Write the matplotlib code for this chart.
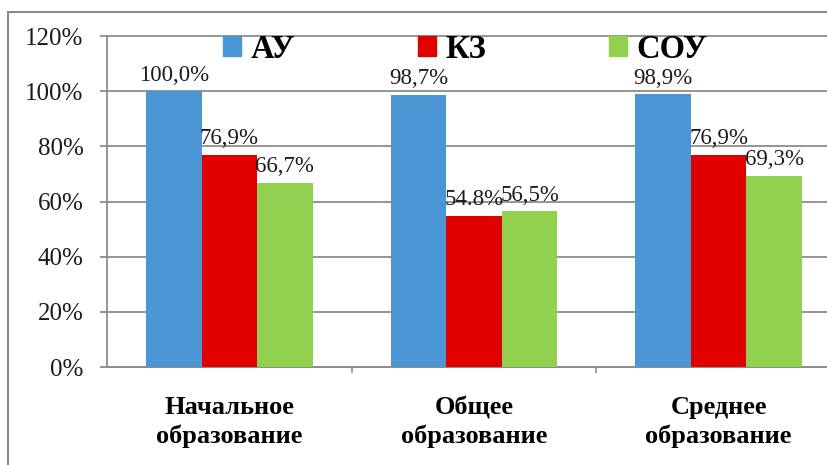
import matplotlib.pyplot as plt
from matplotlib.patches import Patch, Rectangle

# chart data (percent)
categories = ["Начальное\nобразование", "Общее\nобразование", "Среднее\nобразование"]
series_names = ["АУ", "КЗ", "СОУ"]
au = [100.0, 98.7, 98.9]
kz = [76.9, 54.8, 76.9]
sou = [66.7, 56.5, 69.3]
# value labels as printed on the original (one uses a dot)
au_labels = ["100,0%", "98,7%", "98,9%"]
kz_labels = ["76,9%", "54.8%", "76,9%"]
sou_labels = ["66,7%", "56,5%", "69,3%"]
y_ticks = [0, 20, 40, 60, 80, 100, 120]

colors = ["#4b97d6", "#e00000", "#92d050"]
grey = "#8c8c8c"
serif = ["Liberation Serif", "DejaVu Serif"]

plt.rcParams["font.family"] = serif

fig = plt.figure(figsize=(8.28, 4.65), dpi=100)
# axes extend past the right edge, like the cropped original
ax = fig.add_axes([107 / 828, 1 - 367 / 465, 734 / 828, 331 / 465])

x = list(range(len(categories)))
width = 0.227
all_vals = [au, kz, sou]
all_labels = [au_labels, kz_labels, sou_labels]
for i, (vals, labs) in enumerate(zip(all_vals, all_labels)):
    pos = [xi + (i - 1) * width for xi in x]
    bars = ax.bar(pos, vals, width=width, color=colors[i], zorder=3)
    ax.bar_label(bars, labels=labs, padding=4, fontsize=16.5, color="#1a1a1a")

ax.set_xlim(-0.5, 2.5)
ax.set_ylim(0, 120)
ax.set_yticks(y_ticks)
ax.set_yticklabels([f"{t}%" for t in y_ticks], fontsize=18, color="#1a1a1a")
ax.yaxis.grid(True, color=grey, linewidth=1.3, zorder=0)
for gl in ax.get_ygridlines():
    gl.set_clip_on(False)

ax.set_xticks(x)
ax.set_xticklabels(categories, fontsize=19, fontweight="bold", linespacing=1.3)
ax.set_xticks([0.5, 1.5], minor=True)
ax.tick_params(axis="x", which="major", length=0, pad=21)
ax.tick_params(axis="x", which="minor", length=4, color=grey, width=1.2)
ax.tick_params(axis="y", length=5, color=grey, width=1.3, pad=12)

for side in ["top", "right"]:
    ax.spines[side].set_visible(False)
for side in ["left", "bottom"]:
    ax.spines[side].set_color(grey)
    ax.spines[side].set_linewidth(1.3)

handles = [Patch(color=c) for c in colors]
fig.legend(handles, series_names, loc="center left",
           bbox_to_anchor=(223 / 828, 1 - 49 / 465), ncol=3, frameon=False,
           prop={"family": serif, "weight": "bold", "size": 23.5},
           handlelength=0.55, handleheight=0.6, handletextpad=0.3,
           columnspacing=3.75, borderpad=0, borderaxespad=0)

# outer chart border (cropped on right and bottom)
fig.patches.append(Rectangle((8 / 828, -0.1), 2, 1.1 - 12 / 465,
                             transform=fig.transFigure, fill=False,
                             edgecolor=grey, linewidth=1.5))

fig.savefig("out.png", dpi=100)
